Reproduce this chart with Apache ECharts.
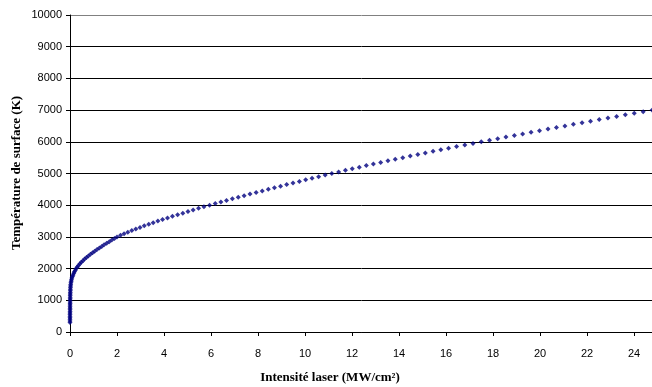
<!DOCTYPE html>
<html>
<head>
<meta charset="utf-8">
<script src="https://cdn.jsdelivr.net/npm/echarts@6/dist/echarts.min.js"></script>
<style>
html,body{margin:0;padding:0;background:#fff;}
#chart{width:652px;height:387px;}
</style>
</head>
<body>
<div id="chart"></div>
<script>
// Surface temperature (K), sampled every 50 K
const temperature = [
 300,350,400,450,500,550,600,650,700,750,800,850,900,950,1000,1050,1100,1150,1200,1250,
 1300,1350,1400,1450,1500,1550,1600,1650,1700,1750,1800,1850,1900,1950,2000,2050,2100,2150,2200,2250,
 2300,2350,2400,2450,2500,2550,2600,2650,2700,2750,2800,2850,2900,2950,3000,3050,3100,3150,3200,3250,
 3300,3350,3400,3450,3500,3550,3600,3650,3700,3750,3800,3850,3900,3950,4000,4050,4100,4150,4200,4250,
 4300,4350,4400,4450,4500,4550,4600,4650,4700,4750,4800,4850,4900,4950,5000,5050,5100,5150,5200,5250,
 5300,5350,5400,5450,5500,5550,5600,5650,5700,5750,5800,5850,5900,5950,6000,6050,6100,6150,6200,6250,
 6300,6350,6400,6450,6500,6550,6600,6650,6700,6750,6800,6850,6900,6950,7000
];
// Laser intensity (MW/cm²) for each temperature above
const intensity = [
 0.000,0.000,0.000,0.001,0.001,0.001,0.001,0.002,0.002,0.002,0.003,0.003,0.004,0.005,0.006,0.007,0.008,0.009,0.010,0.012,
 0.015,0.017,0.020,0.025,0.030,0.040,0.050,0.065,0.080,0.105,0.130,0.160,0.190,0.225,0.26,0.31,0.36,0.42,0.48,0.55,
 0.62,0.70,0.78,0.87,0.96,1.05,1.15,1.25,1.35,1.45,1.56,1.67,1.78,1.89,2.00,2.15,2.30,2.46,2.63,2.80,
 2.98,3.16,3.35,3.54,3.74,3.94,4.15,4.36,4.58,4.80,5.02,5.24,5.47,5.70,5.94,6.18,6.42,6.66,6.91,7.16,
 7.41,7.66,7.92,8.18,8.44,8.70,8.96,9.22,9.49,9.76,10.03,10.30,10.58,10.86,11.14,11.43,11.72,12.01,12.31,12.61,
 12.91,13.22,13.53,13.84,14.16,14.48,14.80,15.12,15.45,15.78,16.11,16.45,16.80,17.15,17.50,17.85,18.20,18.55,18.91,19.26,
 19.62,19.98,20.34,20.70,21.06,21.42,21.79,22.15,22.52,22.89,23.26,23.63,24.01,24.39,24.77
];
const xTitle = 'Intensité laser (MW/cm²)';
const yTitle = 'Température de surface (K)';

const chart = echarts.init(document.getElementById('chart'));
const data = intensity.map((v, i) => [v, temperature[i]]);
const gridColors = ['#000','#000','#000','#000','#000','#000','#000','#000','#000','#000','#808080'];

chart.setOption({
  animation: false,
  backgroundColor: '#fff',
  grid: { left: 70, top: 15, width: 611, height: 317, containLabel: false, outerBoundsMode: 'none' },
  xAxis: {
    type: 'value', min: 0, max: 26, interval: 2,
    axisLine: { show: true, onZero: false, lineStyle: { color: '#000', width: 1 } },
    axisTick: { show: true, length: 4, lineStyle: { color: '#000' } },
    axisLabel: { color: '#000', fontFamily: 'Liberation Sans, Arial', fontSize: 11, margin: 16,
                 formatter: v => String(v) },
    splitLine: { show: false }
  },
  yAxis: {
    type: 'value', min: 0, max: 10000, interval: 1000,
    axisLine: { show: true, lineStyle: { color: '#000', width: 1 } },
    axisTick: { show: true, length: 4, lineStyle: { color: '#000' } },
    axisLabel: { color: '#000', fontFamily: 'Liberation Sans, Arial', fontSize: 11, margin: 8,
                 formatter: v => String(v) },
    splitLine: { show: true, lineStyle: { color: gridColors, width: 1 } }
  },
  graphic: [
    { type: 'text', x: 330, y: 378,
      style: { text: xTitle, font: 'bold 13px "Liberation Serif", "Times New Roman", serif', fill: '#000',
               align: 'center', verticalAlign: 'middle' } },
    { type: 'text', x: 17, y: 173, rotation: Math.PI / 2,
      style: { text: yTitle, font: 'bold 13px "Liberation Serif", "Times New Roman", serif', fill: '#000',
               align: 'center', verticalAlign: 'middle' } }
  ],
  series: [{
    type: 'scatter',
    data: data,
    symbol: 'diamond',
    symbolSize: 5,
    itemStyle: { color: '#000080' }
  }]
});
</script>
</body>
</html>
